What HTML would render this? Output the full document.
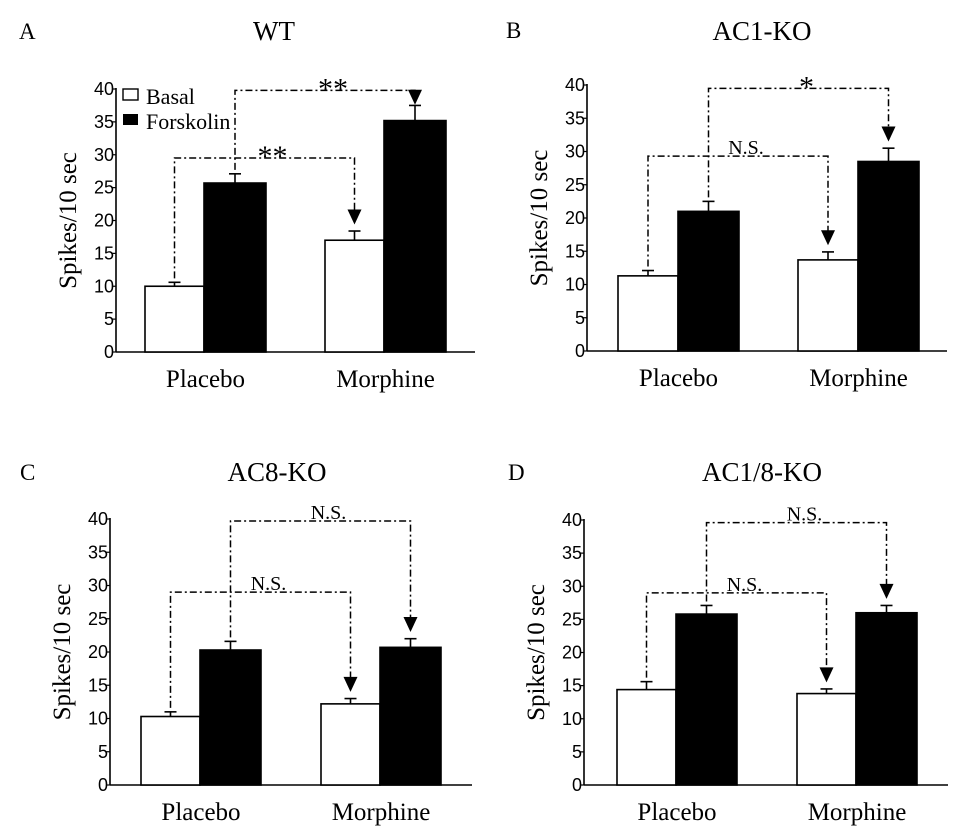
<!DOCTYPE html>
<html><head><meta charset="utf-8"><style>
body{margin:0;background:#fff}
svg{display:block}
.t{font-family:"Liberation Serif",serif;fill:#000}
.s{font-family:"Liberation Sans",sans-serif;fill:#000}
</style></head><body>
<svg id="fig" width="968" height="834" viewBox="0 0 968 834" xmlns="http://www.w3.org/2000/svg"></svg>
<script>
const panelIds = ["A","B","C","D"];
const panelTitles = ["WT","AC1-KO","AC8-KO","AC1/8-KO"];
const categories = ["Placebo","Morphine"];
const basalValues = [[10,17],[11.3,13.7],[10.3,12.2],[14.4,13.8]];
const basalErrors = [[0.6,1.4],[0.8,1.2],[0.7,0.8],[1.2,0.7]];
const forskValues = [[25.7,35.2],[21,28.5],[20.3,20.7],[25.8,26]];
const forskErrors = [[1.4,2.3],[1.5,2],[1.3,1.3],[1.3,1.1]];
const lowerLabels = ["**","N.S.","N.S.","N.S."];
const upperLabels = ["**","*","N.S.","N.S."];
const lowerLevels = [29.5,29.3,29,29];
const upperLevels = [39.8,39.5,39.7,39.6];
const yTicks = [0,5,10,15,20,25,30,35,40];

const NS="http://www.w3.org/2000/svg";
const svg=document.getElementById('fig');
function mk(tag,attrs,parent,text){const e=document.createElementNS(NS,tag);for(const k in attrs)e.setAttribute(k,attrs[k]);if(text!==undefined)e.textContent=text;(parent||svg).appendChild(e);return e;}

const layout=[
 {ax:116,y0:352,y40:89,xe:475,g:[145,325],bw:[59,62],lx:19,ly:39,tx:274,ty:40},
 {ax:587,y0:351,y40:85,xe:947,g:[618,798],bw:[60,61],lx:506,ly:38,tx:762,ty:40},
 {ax:110,y0:785,y40:519,xe:472,g:[141,321],bw:[59,61],lx:20,ly:480,tx:277,ty:481},
 {ax:584,y0:785,y40:520,xe:948,g:[617,797],bw:[59,61],lx:508,ly:480,tx:762,ty:481}
];

panelIds.forEach((pid,p)=>{
  const L=layout[p];
  const y=v=>L.y0-(L.y0-L.y40)*v/40;
  const G=mk('g',{});
  
  
  let e=mk('text',{x:L.lx,y:L.ly,class:'t','font-size':23},G,pid);
  
  e=mk('text',{x:L.tx,y:L.ty,class:'t','font-size':27,'text-anchor':'middle'},G,panelTitles[p]);
  
  e=mk('line',{x1:L.ax,y1:y(40)-1,x2:L.ax,y2:L.y0,stroke:'#000','stroke-width':1.6},G);
  
  e=mk('line',{x1:L.ax,y1:L.y0,x2:L.xe,y2:L.y0,stroke:'#000','stroke-width':1.6},G);
  
  yTicks.forEach(t=>{
    mk('line',{x1:L.ax-4,y1:y(t),x2:L.ax,y2:y(t),stroke:'#000','stroke-width':1.2},G);
    e=mk('text',{x:L.ax-2,y:y(t)+6,class:'s','font-size':18,'text-anchor':'end'},G,String(t));
    
  });
  const cy=(L.y0+L.y40)/2;
  e=mk('text',{x:0,y:0,class:'t','font-size':25,'text-anchor':'middle',transform:`translate(${L.ax-40},${cy}) rotate(-90)`},G,'Spikes/10 sec');
  
  const centers={b:[],f:[]},tops={b:[],f:[]};
  categories.forEach((c,i)=>{
    const bx=L.g[i],bw=L.bw[0],fw=L.bw[1];
    const series=[[bx,bw,basalValues[p][i],basalErrors[p][i],'#fff','basal','b'],[bx+bw,fw,forskValues[p][i],forskErrors[p][i],'#000','forskolin','f']];
    series.forEach(([x,w,v,er,fill,nm,k])=>{
      const cx=x+w/2;
      e=mk('line',{x1:cx,y1:y(v),x2:cx,y2:y(v+er),stroke:'#000','stroke-width':1.6},G);
      
      mk('line',{x1:cx-6,y1:y(v+er),x2:cx+6,y2:y(v+er),stroke:'#000','stroke-width':1.6},G);
      e=mk('rect',{x:x,y:y(v),width:w,height:L.y0-y(v),fill:fill,stroke:'#000','stroke-width':1.6},G);
      
      centers[k].push(cx);tops[k].push(v+er);
    });
    e=mk('text',{x:bx+(bw+fw)/2,y:L.y0+35,class:'t','font-size':25,'text-anchor':'middle'},G,c);
    
  });
  const br=(k,lvl,lab,nm)=>{
    const x1=centers[k][0],x2=centers[k][1];
    const ys=y(tops[k][0]+0.6),yl=y(lvl),tip=y(tops[k][1]+(k==='f'&&p===0?0.1:1.0));
    e=mk('path',{d:`M${x1},${ys} L${x1},${yl} L${x2},${yl} L${x2},${tip-14}`,fill:'none',stroke:'#000','stroke-width':1.5,'stroke-dasharray':'7,3,2,3'},G);
    
    e=mk('path',{d:`M${x2-7},${tip-15} L${x2+7},${tip-15} L${x2},${tip} Z`,fill:'#000'},G);
    
    const mid=(x1+x2)/2;
    const star=lab.indexOf('*')>=0;
    e=mk('text',{x:mid+8,y:yl+(star?8:-2),class:'t','font-size':star?30:20,'text-anchor':'middle'},G,lab);
    
  };
  br('b',lowerLevels[p],lowerLabels[p],'basal-comparison');
  br('f',upperLevels[p],upperLabels[p],'forskolin-comparison');
  if(p===0){
    const lg=mk('g',{},G);
    
    e=mk('rect',{x:123,y:89,width:15,height:11,fill:'#fff',stroke:'#000','stroke-width':1.4},lg);
    
    e=mk('text',{x:146,y:104,class:'t','font-size':22},lg,'Basal');
    
    e=mk('rect',{x:123,y:114,width:15,height:11,fill:'#000'},lg);
    
    e=mk('text',{x:146,y:129,class:'t','font-size':22},lg,'Forskolin');
    
  }
});
</script>
</body></html>
